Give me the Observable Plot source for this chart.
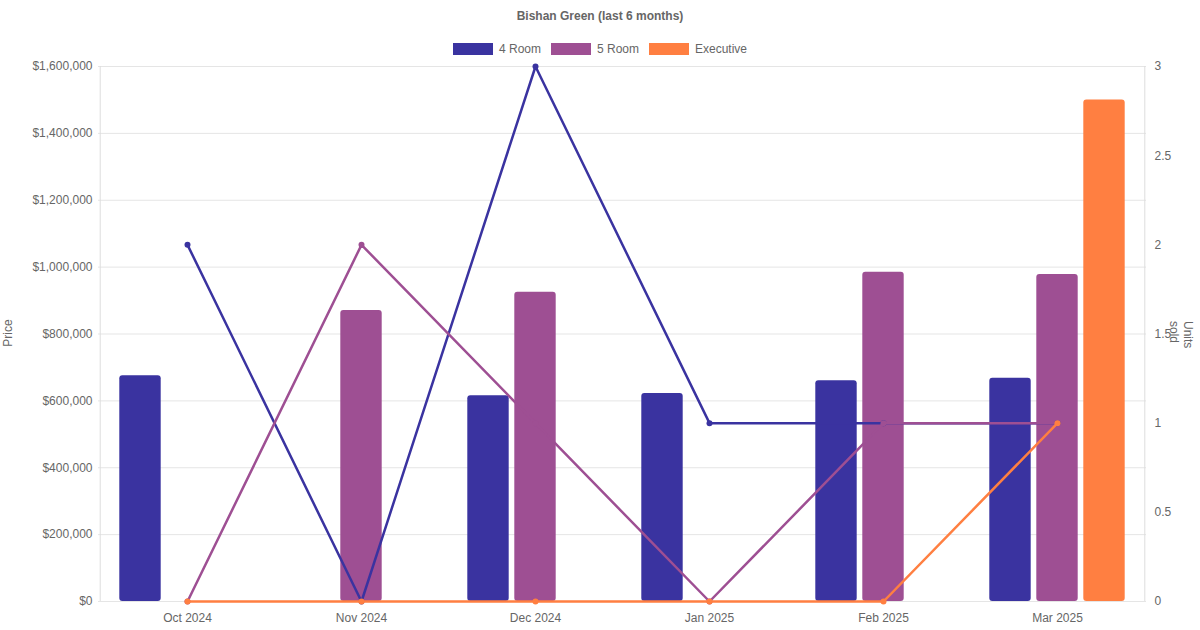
<!DOCTYPE html>
<html><head><meta charset="utf-8">
<script src="https://cdn.jsdelivr.net/npm/d3@7"></script>
<script src="https://cdn.jsdelivr.net/npm/@observablehq/plot@0.6"></script>
<style>
body{margin:0;font-family:"Liberation Sans",Arial,sans-serif;background:#fff;}
#wrap{position:relative;width:1200px;height:630px;}
.t{position:absolute;color:#666;font-size:12px;}
#title{top:9px;left:0;width:1200px;text-align:center;font-weight:bold;}
#legend{top:42px;left:0;width:1200px;display:flex;justify-content:center;gap:10px;}
.sw{display:inline-block;width:40px;height:12px;vertical-align:-2px;margin-right:6px;}
</style></head><body>
<div id="wrap">
<div id="chart"></div>
<div class="t" id="title">Bishan Green (last 6 months)</div>
<div class="t" id="legend"></div>
<div class="t" style="left:-6px;top:326px;transform:rotate(-90deg);">Price</div>
<div class="t" style="left:1162px;top:326px;transform:rotate(90deg);">Units sold</div>
</div>
<script>
const months = ["Oct 2024","Nov 2024","Dec 2024","Jan 2025","Feb 2025","Mar 2025"];
const types = ["4 Room","5 Room","Executive"];
const colors = ["#3a33a0","#9e4f93","#ff7f41"];
const price4 = [675000, null, 615000, 622000, 660000, 668000];
const price5 = [null, 870000, 925000, null, 985000, 978000];
const priceE = [null, null, null, null, null, 1500000];
const units4 = [2, 0, 3, 1, 1, 1];
const units5 = [0, 2, 1, 0, 1, 1];
const unitsE = [0, 0, 0, 0, 0, 1];
const priceTicks = d3.range(0, 1600001, 200000);
const unitTicks = [0, 0.5, 1, 1.5, 2, 2.5, 3];
const K = 1600000 / 3;

const prices = [price4, price5, priceE];
const units = [units4, units5, unitsE];
const offsets = [-47, 0, 47];

document.getElementById("legend").innerHTML = types.map((t,i)=>`<span><span class="sw" style="background:${colors[i]}"></span>${t}</span>`).join("");

const marks = [
  Plot.ruleY(priceTicks, {stroke:"#e5e5e5"}),
  Plot.ruleX([months[0]], {stroke:"#ddd", dx:-87.3}),
  Plot.ruleX([months[5]], {stroke:"#ddd", dx:87.3}),
  Plot.axisY({ticks: priceTicks, tickFormat: d => "$" + d3.format(",")(d), tickSize:0, tickPadding:6, label:null, fill:"#666", fontSize:12}),
  Plot.axisY({anchor:"right", ticks: unitTicks.map(u=>u*K), tickFormat: d => String(+(d/K).toFixed(1)), tickSize:0, tickPadding:8, label:null, fill:"#666", fontSize:12}),
  Plot.axisX({tickSize:0, tickPadding:12, label:null, fill:"#666", fontSize:12})
];
types.forEach((t,i)=>{
  const data = months.map((m,j)=>({m, v: prices[i][j]})).filter(d=>d.v!=null);
  marks.push(Plot.barY(data, {x:"m", y:"v", fill:colors[i], dx:offsets[i], insetLeft:66.3, insetRight:66.3, rx:3}));
});
types.forEach((t,i)=>{
  const data = months.map((m,j)=>({m, v: units[i][j]*K}));
  marks.push(Plot.lineY(data, {x:"m", y:"v", stroke:colors[i], strokeWidth:2.5}));
  marks.push(Plot.dot(data, {x:"m", y:"v", fill:colors[i], r:3}));
});

const chart = Plot.plot({
  width:1200, height:630,
  marginLeft:98, marginRight:54, marginTop:66, marginBottom:29,
  style:{fontFamily:"Liberation Sans, Arial, sans-serif", fontSize:"12px", color:"#666"},
  x:{type:"band", domain:months, padding:0},
  y:{domain:[0,1600000]},
  marks
});
document.getElementById("chart").appendChild(chart);
</script>
</body></html>
